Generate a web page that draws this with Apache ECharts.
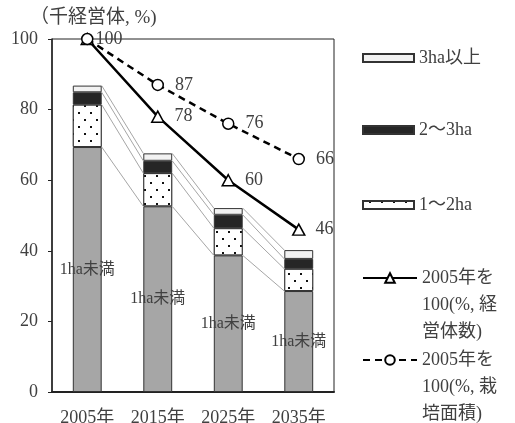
<!DOCTYPE html>
<html>
<head>
<meta charset="utf-8">
<script src="https://cdn.jsdelivr.net/npm/echarts@6/dist/echarts.min.js"></script>
<style>
  html, body { margin: 0; padding: 0; background: #fff; }
  #chart { width: 515px; height: 423px; }
</style>
</head>
<body>
<div id="chart"></div>
<script>
// Farm entities by cultivated area (thousand entities) and indices (2005 = 100)
const categories = ['2005年', '2015年', '2025年', '2035年'];
const under1ha = [69.4, 52.6, 38.7, 28.6];
const ha1to2 = [12.0, 9.4, 7.7, 6.3];
const ha2to3 = [3.5, 3.5, 3.8, 2.8];
const over3ha = [1.9, 2.1, 1.9, 2.5];
const indexEntities = [100, 78, 60, 46];
const indexArea = [100, 87, 76, 66];
const yTicks = { min: 0, max: 100, interval: 20 };

const FONT = "'Liberation Serif', 'Noto Sans CJK JP', serif";
const TEXT = '#404040';
const BAR_FRACTION = 0.41;

const barStacks = [
  { name: '1ha未満', data: under1ha, color: '#a6a6a6' },
  { name: '1～2ha', data: ha1to2, color: '#ffffff' },
  { name: '2～3ha', data: ha2to3, color: '#262626' },
  { name: '3ha以上', data: over3ha, color: '#f2f2f2' }
];

// cumulative top of each stack layer per category
const layerTops = barStacks.map((_, li) =>
  categories.map((_, ci) => barStacks.slice(0, li + 1).reduce((s, b) => s + b.data[ci], 0))
);

// connector segments between neighbouring bars: [catIndex, levelHere, levelNext]
const connectorData = [];
layerTops.forEach(tops => {
  for (let i = 0; i < categories.length - 1; i++) {
    connectorData.push([i, tops[i], tops[i + 1]]);
  }
});

const chart = echarts.init(document.getElementById('chart'), null, { renderer: 'canvas' });

const barSeries = barStacks.map((b, idx) => ({
  name: b.name,
  type: 'bar',
  stack: 'area',
  barWidth: (BAR_FRACTION * 100) + '%',
  data: b.data,
  z: 3,
  itemStyle: Object.assign({
    color: b.color,
    borderColor: '#333',
    borderWidth: 1
  }, idx === 1 ? {
    decal: {
      symbol: 'rect',
      symbolSize: 1,
      color: '#111',
      backgroundColor: '#ffffff',
      dashArrayX: [[2, 10], [0, 6, 2, 4]],
      dashArrayY: [2, 5]
    }
  } : {}),
  label: idx === 0 ? {
    show: true,
    position: 'inside',
    formatter: '1ha未満',
    color: TEXT,
    fontFamily: FONT,
    fontSize: 16
  } : { show: false },
  emphasis: { disabled: true }
}));

const legendText = {
  fontFamily: FONT,
  fontSize: 18,
  color: TEXT,
  lineHeight: 27
};

function barLegend(name, centerY) {
  return {
    data: [name],
    left: 362,
    top: centerY - 13.5,
    padding: 0,
    icon: 'rect',
    itemWidth: 51,
    itemHeight: 8,
    selectedMode: false,
    textStyle: legendText
  };
}

function lineLegend(name, label, centerY) {
  return {
    data: [name],
    left: 362,
    top: centerY - 67.5,
    padding: 0,
    itemWidth: 54,
    itemHeight: 12,
    selectedMode: false,
    formatter: () => '\n\n' + label,
    textStyle: legendText
  };
}

const option = {
  backgroundColor: '#fff',
  animation: false,
  textStyle: { fontFamily: FONT },
  title: {
    text: '（千経営体, %)',
    left: 30,
    top: 9,
    padding: 0,
    textStyle: { fontFamily: FONT, fontSize: 19, fontWeight: 'normal', color: TEXT }
  },
  legend: [
    barLegend('3ha以上', 58),
    barLegend('2～3ha', 130),
    barLegend('1～2ha', 205),
    lineLegend('2005年を100(%, 経営体数)', '2005年を\n100(%, 経\n営体数)', 278),
    lineLegend('2005年を100(%, 栽培面積)', '2005年を\n100(%, 栽\n培面積)', 360)
  ],
  grid: {
    left: 52,
    right: 181,
    top: 39,
    bottom: 31,
    show: true,
    borderColor: '#222',
    borderWidth: 1,
    containLabel: false,
    outerBoundsMode: 'none'
  },
  xAxis: {
    type: 'category',
    data: categories,
    axisLine: { lineStyle: { color: '#222', width: 2 } },
    axisTick: { show: false },
    axisLabel: { color: TEXT, fontFamily: FONT, fontSize: 18, margin: 17 }
  },
  yAxis: {
    type: 'value',
    min: yTicks.min,
    max: yTicks.max,
    interval: yTicks.interval,
    splitLine: { show: false },
    axisLine: { show: true, lineStyle: { color: '#222', width: 1.5 } },
    axisTick: { show: true, length: 4, lineStyle: { color: '#222' } },
    axisLabel: { color: TEXT, fontFamily: FONT, fontSize: 18, margin: 14 }
  },
  series: [
    // thin connecting lines between the stacked layers of adjacent bars
    {
      type: 'custom',
      name: 'connectors',
      silent: true,
      z: 1,
      data: connectorData,
      renderItem: function (params, api) {
        const i = api.value(0);
        const band = api.size([1, 0])[0];
        const half = band * BAR_FRACTION / 2;
        const p1 = api.coord([i, api.value(1)]);
        const p2 = api.coord([i + 1, api.value(2)]);
        return {
          type: 'line',
          shape: { x1: p1[0] + half, y1: p1[1], x2: p2[0] - half, y2: p2[1] },
          style: { stroke: '#a6a6a6', lineWidth: 1 }
        };
      },
      encode: { x: 0, y: 1 }
    },
    ...barSeries,
    {
      name: '2005年を100(%, 経営体数)',
      type: 'line',
      data: indexEntities.map((v, i) => i === 0 ? { value: v, label: { show: false } } : v),
      symbol: 'triangle',
      symbolSize: [12, 11],
      z: 5,
      lineStyle: { color: '#000', width: 2.5, type: 'solid' },
      itemStyle: { color: '#fff', borderColor: '#000', borderWidth: 1.5 },
      label: {
        show: true,
        position: 'right',
        distance: 10,
        color: TEXT,
        fontFamily: FONT,
        fontSize: 18
      },
      emphasis: { disabled: true }
    },
    {
      name: '2005年を100(%, 栽培面積)',
      type: 'line',
      data: indexArea.map((v, i) => i === 0 ? { value: v, label: { distance: 2 } } : v),
      symbol: 'circle',
      symbolSize: 11,
      z: 6,
      lineStyle: { color: '#000', width: 2.5, type: [7, 5] },
      itemStyle: { color: '#fff', borderColor: '#000', borderWidth: 1.5 },
      label: {
        show: true,
        position: 'right',
        distance: 11,
        color: TEXT,
        fontFamily: FONT,
        fontSize: 18
      },
      emphasis: { disabled: true }
    }
  ]
};

chart.setOption(option);
</script>
</body>
</html>
